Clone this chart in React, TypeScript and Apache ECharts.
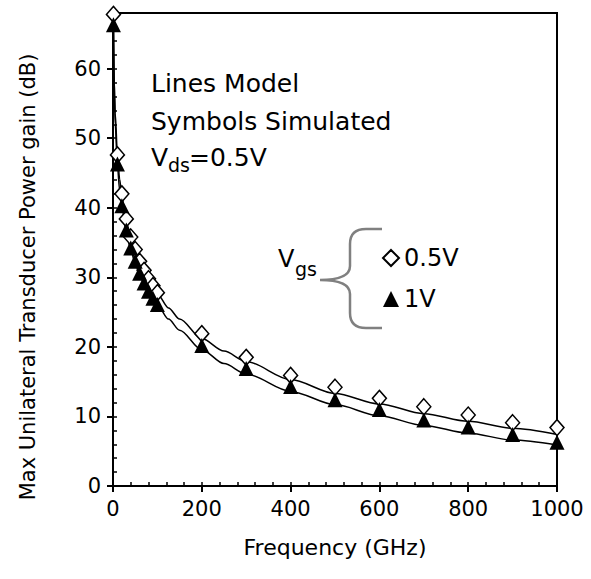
import React, { useEffect, useRef } from "react";
import * as echarts from "echarts";

const FONT = "DejaVu Sans";

// Simulated symbols: [frequency GHz, gain dB]
const simVgs05: [number, number][] = [
  [1, 67.8], [10, 47.6], [20, 42.0], [30, 38.4], [40, 35.8], [50, 34.0], [60, 32.3],
  [70, 31.0], [80, 29.8], [90, 28.8], [100, 27.8], [200, 21.9], [300, 18.5], [400, 15.9],
  [500, 14.2], [600, 12.6], [700, 11.4], [800, 10.2], [900, 9.1], [1000, 8.4],
];
const simVgs1: [number, number][] = [
  [1, 66.3], [10, 46.3], [20, 40.3], [30, 36.8], [40, 34.2], [50, 32.3], [60, 30.6],
  [70, 29.2], [80, 28.0], [90, 27.0], [100, 26.1], [200, 20.2], [300, 16.9], [400, 14.3],
  [500, 12.4], [600, 11.0], [700, 9.5], [800, 8.5], [900, 7.4], [1000, 6.3],
];
// Model lines
const modelVgs05: [number, number][] = [
  [1, 67.6], [3, 58.0], [5, 53.6], [10, 47.6], [15, 44.1], [20, 41.6], [30, 38.0],
  [40, 35.5], [50, 33.6], [60, 32.0], [70, 30.7], [80, 29.5], [100, 27.6], [125, 25.6],
  [150, 24.0], [200, 21.2], [250, 19.4], [300, 17.9], [400, 15.3], [500, 13.3],
  [600, 11.8], [700, 10.4], [800, 9.3], [900, 8.3], [1000, 7.4],
];
const modelVgs1: [number, number][] = [
  [1, 66.0], [3, 56.5], [5, 52.0], [10, 46.0], [15, 42.5], [20, 40.0], [30, 36.4],
  [40, 33.9], [50, 32.0], [60, 30.4], [70, 29.1], [80, 27.9], [100, 26.0], [125, 24.0],
  [150, 22.4], [200, 19.6], [250, 17.6], [300, 16.1], [400, 13.6], [500, 11.7],
  [600, 10.1], [700, 8.7], [800, 7.6], [900, 6.6], [1000, 5.9],
];
const yTickValues = [0, 10, 20, 30, 40, 50, 60];
const seriesNames = ["0.5V", "1V"];

const bracePath =
  "M382,229 L366,229 Q350,229 350,244 L350,266 Q350,280 320,280 Q350,280 350,294 L350,313 Q350,328 366,328 L382,328";

export default function App() {
  const ref = useRef<HTMLDivElement>(null);
  useEffect(() => {
    if (!ref.current) return;
    document.body.style.margin = "0";
    echarts.graphic.registerShape("brace", echarts.graphic.extendPath(bracePath, {}) as any);
    const chart = echarts.init(ref.current, null, { renderer: "svg" });
    const text = (t: string, x: number, y: number, size: number) => ({
      type: "text",
      x,
      y,
      style: { text: t, fill: "#000", font: `${size}px "${FONT}"`, textAlign: "left", textVerticalAlign: "middle" },
    });
    const minorAxisLine = { show: true, lineStyle: { color: "rgba(0,0,0,0)", width: 0 } };
    chart.setOption({
      animation: false,
      backgroundColor: "#fff",
      textStyle: { fontFamily: FONT, color: "#000" },
      grid: { left: 113, right: 34, top: 13, bottom: 93, show: true, borderColor: "#000", borderWidth: 2 },
      legend: {
        data: seriesNames,
        orient: "vertical",
        left: 382,
        top: 246,
        padding: 0,
        itemWidth: 16,
        itemHeight: 16,
        itemGap: 17,
        textStyle: { fontSize: 24, fontFamily: FONT, color: "#000" },
      },
      xAxis: [
        {
          type: "value",
          min: 0,
          max: 1000,
          interval: 200,
          name: "Frequency (GHz)",
          nameLocation: "middle",
          nameGap: 50,
          nameTextStyle: { fontSize: 22, fontFamily: FONT, color: "#000" },
          axisLine: { show: true, lineStyle: { color: "#000", width: 2 } },
          axisTick: { show: true, inside: false, length: 6, lineStyle: { color: "#000", width: 2 } },
          axisLabel: { fontSize: 21, fontFamily: FONT, color: "#000", margin: 12, formatter: (v: number) => String(v) },
          splitLine: { show: false },
        },
        {
          type: "value",
          min: 0,
          max: 1000,
          interval: 40,
          position: "bottom",
          axisLine: minorAxisLine,
          axisTick: { show: true, inside: true, length: 4, lineStyle: { color: "#000", width: 1.5 } },
          axisLabel: { show: false },
          splitLine: { show: false },
        },
      ],
      yAxis: [
        {
          type: "value",
          min: 0,
          max: 68,
          interval: 10,
          axisLine: { show: true, lineStyle: { color: "#000", width: 2 } },
          axisTick: { show: true, inside: false, length: 6, customValues: yTickValues, lineStyle: { color: "#000", width: 2 } },
          axisLabel: { fontSize: 21, fontFamily: FONT, color: "#000", margin: 12, customValues: yTickValues },
          splitLine: { show: false },
        },
        {
          type: "value",
          min: 0,
          max: 68,
          interval: 2,
          position: "left",
          axisLine: minorAxisLine,
          axisTick: { show: true, inside: true, length: 4, lineStyle: { color: "#000", width: 1.5 } },
          axisLabel: { show: false },
          splitLine: { show: false },
        },
      ],
      series: [
        {
          name: "model 0.5V",
          type: "line",
          data: modelVgs05,
          showSymbol: false,
          smooth: 0.3,
          smoothMonotone: "x",
          lineStyle: { color: "#000", width: 1.5 },
          z: 2,
        },
        {
          name: "model 1V",
          type: "line",
          data: modelVgs1,
          showSymbol: false,
          smooth: 0.3,
          smoothMonotone: "x",
          lineStyle: { color: "#000", width: 1.5 },
          z: 2,
        },
        {
          name: seriesNames[0],
          type: "scatter",
          data: simVgs05,
          symbol: "diamond",
          symbolSize: [14, 16],
          itemStyle: { color: "#fff", borderColor: "#000", borderWidth: 1.5, opacity: 1 },
          z: 3,
        },
        {
          name: seriesNames[1],
          type: "scatter",
          data: simVgs1,
          symbol: "triangle",
          symbolSize: [15, 15],
          itemStyle: { color: "#000", opacity: 1 },
          z: 4,
        },
      ],
      graphic: [
        text("Lines Model", 151, 83, 25),
        text("Symbols Simulated", 151, 121, 25),
        text("V", 151, 157, 25),
        text("ds", 168, 165, 19),
        text("=0.5V", 189, 157, 25),
        text("V", 278, 259, 24),
        text("gs", 295, 269, 19),
        {
          type: "text",
          x: 28,
          y: 277,
          rotation: Math.PI / 2,
          style: {
            text: "Max Unilateral Transducer Power gain (dB)",
            fill: "#000",
            font: `21px "${FONT}"`,
            textAlign: "center",
            textVerticalAlign: "middle",
          },
        },
        {
          type: "brace",
          x: 0,
          y: 0,
          style: { stroke: "#808080", fill: "none", lineWidth: 2.5 },
        },
      ],
    });
    return () => chart.dispose();
  }, []);
  return <div ref={ref} style={{ width: 591, height: 579 }} />;
}
